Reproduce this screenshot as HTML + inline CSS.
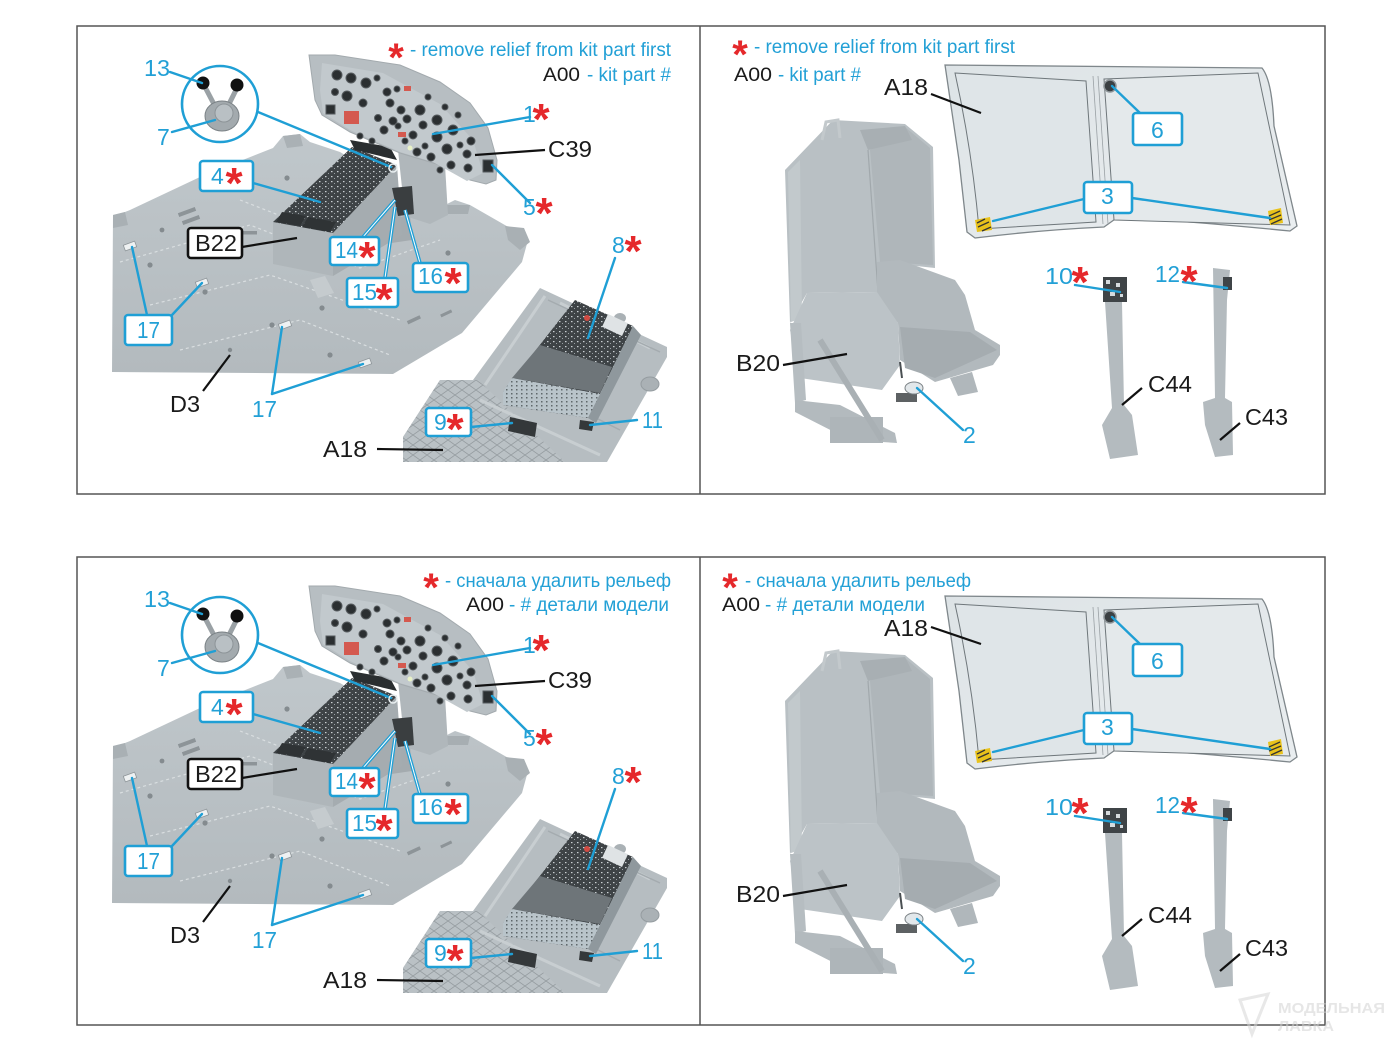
<!DOCTYPE html>
<html><head><meta charset="utf-8"><style>
html,body{margin:0;padding:0;background:#fff;}
svg{display:block;}
.t{font-family:"Liberation Sans",Arial,sans-serif;}
.lb{font-family:"Liberation Sans",Arial,sans-serif;font-size:23px;fill:#22a0d6;}
.bk{font-family:"Liberation Sans",Arial,sans-serif;font-size:23px;fill:#1a1a1a;}
.lg{font-family:"Liberation Sans",Arial,sans-serif;font-size:19px;fill:#22a0d6;}
.lgk{font-family:"Liberation Sans",Arial,sans-serif;font-size:19px;fill:#1a1a1a;}
.as{font-family:"Liberation Sans",Arial,sans-serif;font-weight:bold;font-size:44px;fill:#e5282b;}
.asl{font-family:"Liberation Sans",Arial,sans-serif;font-weight:bold;font-size:40px;fill:#e5282b;}
</style></head><body>
<svg width="1400" height="1050" viewBox="0 0 1400 1050" xmlns="http://www.w3.org/2000/svg">
<defs>
<pattern id="spk" width="6" height="5" patternUnits="userSpaceOnUse">
<rect width="6" height="5" fill="#3e4346"/>
<rect x="1" y="1" width="1.5" height="1.2" fill="#c9cfd2"/>
<rect x="4" y="3" width="1" height="1" fill="#9aa1a5"/>
</pattern>
<pattern id="dots" width="5" height="4" patternUnits="userSpaceOnUse">
<rect width="5" height="4" fill="#b9c4ca"/>
<rect x="1" y="1" width="1.5" height="1.5" fill="#5f676b"/>
</pattern>
<pattern id="diam" width="14" height="10" patternUnits="userSpaceOnUse">
<rect width="14" height="10" fill="#bac1c5"/>
<path d="M0,0 L14,10 M14,0 L0,10" stroke="#959ca0" stroke-width="0.8"/>
</pattern>
<linearGradient id="flg" x1="0" y1="0" x2="0" y2="1">
<stop offset="0" stop-color="#c0c7cb"/><stop offset="1" stop-color="#b3babe"/>
</linearGradient>
<linearGradient id="gl" x1="0" y1="0" x2="1" y2="1">
<stop offset="0" stop-color="#dde3e6"/><stop offset="1" stop-color="#eaeef0"/>
</linearGradient>
</defs>

<g id="art">
<!-- frames -->
<rect x="77" y="26" width="1248" height="468" fill="none" stroke="#555" stroke-width="1.5"/>
<line x1="700" y1="26" x2="700" y2="494" stroke="#555" stroke-width="1.5"/>

<!-- ========== LEFT: floor D3 ========== -->
<polygon points="113,215 125,212 130,210 200,177 273,148 283,136 300,134 310,142 340,152 420,200 445,205 455,200 470,205 510,228 522,228 528,240 522,262 462,333 393,374 112,372" fill="url(#flg)"/>
<polygon points="113,215 125,212 128,225 113,228" fill="#a9b0b4"/>
<polygon points="283,136 300,134 303,146 287,148" fill="#aab1b5"/>
<polygon points="445,205 470,205 468,214 448,214" fill="#a7aeb2"/>
<polygon points="505,226 524,228 530,242 520,250 508,240" fill="#a9b0b4"/>
<g stroke="#d9dee0" stroke-width="1.2" stroke-dasharray="3,3" fill="none">
<path d="M120,262 L250,225 L360,268 L440,240"/>
<path d="M150,305 L270,275 L400,320"/>
<path d="M180,350 L300,320 L390,355"/>
<path d="M240,200 L330,235"/>
</g>
<g fill="#848b8f">
<circle cx="150" cy="265" r="2.6"/><circle cx="205" cy="292" r="2.6"/><circle cx="272" cy="325" r="2.6"/>
<circle cx="330" cy="355" r="2.6"/><circle cx="322" cy="308" r="2.6"/><circle cx="448" cy="253" r="2.6"/>
<circle cx="162" cy="230" r="2.4"/><circle cx="287" cy="178" r="2.6"/><circle cx="377" cy="223" r="2.4"/>
<circle cx="230" cy="350" r="2.2"/><circle cx="420" cy="280" r="2.2"/>
</g>
<g fill="#8d9498">
<rect x="178" y="210" width="18" height="4" transform="rotate(-20 187 212)"/>
<rect x="182" y="218" width="18" height="4" transform="rotate(-20 191 220)"/>
<rect x="243" y="231" width="14" height="3.5"/>
<rect x="407" y="318" width="14" height="3.5" transform="rotate(-25 414 320)"/>
<rect x="288" y="262" width="8" height="3"/>
<rect x="440" y="312" width="12" height="3" transform="rotate(-25 446 313)"/>
</g>
<g fill="#eef1f2" stroke="#8f969a" stroke-width="0.8">
<rect x="124" y="243" width="12" height="6" transform="rotate(-20 130 246)"/>
<rect x="196" y="280" width="12" height="6" transform="rotate(-20 202 283)"/>
<rect x="279" y="322" width="12" height="6" transform="rotate(-20 285 325)"/>
<rect x="359" y="360" width="12" height="6" transform="rotate(-20 365 363)"/>
</g>
<polygon points="310,280 325,276 334,293 318,298" fill="#c5cbce"/>
<polygon points="375,222 410,215 412,240 378,245" fill="#a4abaf"/>
<!-- console B22 -->
<polygon points="273,222 333,233 333,276 273,264" fill="#afb6ba"/>
<polygon points="333,233 397,165 402,235 333,276" fill="#a5acb0"/>
<polygon points="273,222 333,233 397,165 352,147" fill="url(#spk)"/>
<polygon points="276,222 300,226 306,216 282,212" fill="#2f3335"/>
<polygon points="302,227 330,232 336,222 308,217" fill="#2f3335"/>
<polygon points="350,140 390,147 397,160 355,150" fill="#2a2e30"/>
<!-- instrument panel support -->
<polygon points="398,150 445,165 448,215 430,224 405,216" fill="#b0b7bb"/>
<polygon points="392,188 412,186 414,214 398,216" fill="#3a3e40"/>
<!-- instrument panel hood -->
<polygon points="309,55 335,55 400,65 440,82 470,103 488,128 497,160 496,180 486,184 470,180 440,165 400,153 350,132 322,115 315,100" fill="#b7bec2" stroke="#a3aaae" stroke-width="1"/>
<polygon points="322,63 383,73 440,104 473,140 483,173 467,181 433,162 400,152 350,130 323,113 320,90" fill="#c2c9cd"/>
<g fill="#2b2f31" stroke="#565b5e" stroke-width="1">
<circle cx="337" cy="75" r="5"/><circle cx="351" cy="78" r="5"/><circle cx="366" cy="83" r="5"/>
<circle cx="347" cy="96" r="5"/><circle cx="363" cy="103" r="4"/><rect x="326" y="105" width="9" height="9"/>
<circle cx="387" cy="92" r="4"/><circle cx="397" cy="89" r="3"/><circle cx="390" cy="103" r="4"/>
<circle cx="401" cy="110" r="4"/><circle cx="407" cy="119" r="4"/><circle cx="393" cy="121" r="4"/>
<circle cx="384" cy="130" r="4"/><circle cx="420" cy="110" r="5"/><circle cx="437" cy="120" r="5"/>
<circle cx="423" cy="125" r="4"/><circle cx="413" cy="135" r="4"/><circle cx="437" cy="137" r="5"/>
<circle cx="453" cy="130" r="5"/><circle cx="447" cy="149" r="5"/><circle cx="467" cy="154" r="4"/>
<circle cx="431" cy="157" r="4"/><circle cx="417" cy="152" r="4"/><circle cx="451" cy="165" r="4"/>
<circle cx="468" cy="168" r="4"/><circle cx="471" cy="141" r="4"/><circle cx="360" cy="136" r="3"/>
<circle cx="372" cy="141" r="3"/><circle cx="405" cy="141" r="3"/><circle cx="458" cy="115" r="3"/>
<circle cx="378" cy="118" r="3.5"/><circle cx="335" cy="92" r="3.5"/><circle cx="377" cy="78" r="3"/>
<circle cx="428" cy="97" r="3"/><circle cx="445" cy="107" r="3"/><circle cx="460" cy="145" r="3"/>
<circle cx="425" cy="146" r="3"/><circle cx="440" cy="170" r="3"/><circle cx="398" cy="126" r="3"/>
<rect x="483" y="160" width="10" height="12"/>
</g>
<rect x="344" y="111" width="15" height="13" fill="#d4594f"/>
<rect x="404" y="86" width="7" height="5" fill="#d4594f"/>
<rect x="398" y="132" width="8" height="5" fill="#d4594f"/>
<circle cx="410" cy="148" r="2.5" fill="#e9f2c8"/>
<!-- inset circle 13/7 -->
<circle cx="220" cy="104" r="38" fill="#fff" stroke="#1f9fd5" stroke-width="2.6"/>
<line x1="217" y1="110" x2="205" y2="87" stroke="#9aa1a5" stroke-width="5"/>
<line x1="226" y1="110" x2="236" y2="90" stroke="#9aa1a5" stroke-width="5"/>
<ellipse cx="222" cy="116" rx="17" ry="15" fill="#a3aaae" stroke="#7b8286" stroke-width="1"/>
<circle cx="224" cy="113" r="9" fill="#b9c0c4" stroke="#8d9498" stroke-width="1"/>
<circle cx="203" cy="83" r="6.5" fill="#111"/>
<circle cx="237" cy="85" r="6.5" fill="#111"/>

<!-- A18 bottom panel (left) -->
<polygon points="540,288 667,347 667,357 607,462 403,462 403,437 440,380 473,380" fill="#b6bdc1"/>
<polygon points="403,437 440,380 478,380 565,462 403,462" fill="url(#diam)"/>
<g stroke="#c8ced1" stroke-width="3" fill="none">
<path d="M545,296 L485,385"/><path d="M560,303 L650,348"/><path d="M480,400 L600,455"/>
</g>
<g stroke="#a4abaf" stroke-width="1.5" fill="none">
<path d="M548,300 L660,352"/><path d="M520,380 L620,430"/>
</g>
<ellipse cx="650" cy="384" rx="9" ry="7" fill="#aab1b5" stroke="#959ca0"/>
<ellipse cx="620" cy="318" rx="6" ry="5" fill="#aab1b5"/>
<!-- box 8 -->
<polygon points="633,326 641,335 596,423 588,418" fill="#8f989d"/>
<polygon points="575,300 633,326 588,418 503,405 503,392" fill="url(#spk)"/>
<polygon points="540,345 612,367 600,393 512,378" fill="#6e7579"/>
<polygon points="512,378 600,394 588,418 503,405 503,392" fill="url(#dots)"/>
<rect x="604" y="318" width="22" height="14" fill="#dfe3e5" transform="rotate(25 615 325)"/>
<circle cx="587" cy="318" r="3" fill="#d04a42"/>
<polygon points="510,417 537,423 535,437 508,431" fill="#34383a"/>
<polygon points="580,420 594,422 592,431 579,429" fill="#34383a"/>

<!-- ========== RIGHT: windshield ========== -->
<path d="M945,65 L1262,68 Q1272,80 1274,126 L1297,226 L1290,231 Q1200,222 1118,217 L1104,227 Q1040,230 975,238 L967,232 L959,160 Z" fill="url(#gl)" stroke="#7f878b" stroke-width="1.3"/>
<path d="M955,73 L1086,81 L1096,222 L979,229 Q972,150 955,73 Z" fill="#dfe5e8" stroke="#6f777b" stroke-width="1"/>
<path d="M1104,79 L1258,73 Q1268,120 1290,225 L1114,220 Z" fill="#e4e9eb" stroke="#6f777b" stroke-width="1"/>
<line x1="1093" y1="76" x2="1103" y2="224" stroke="#9aa1a5" stroke-width="0.8"/>
<line x1="1098" y1="76" x2="1108" y2="224" stroke="#9aa1a5" stroke-width="0.8"/>
<g>
<polygon points="975,220 990,217 992,230 977,232" fill="#e8c21b"/>
<path d="M977,223 L985,219 M978,227 L989,222 M982,231 L991,227" stroke="#333" stroke-width="1.3"/>
<polygon points="1268,211 1281,208 1283,223 1270,225" fill="#e8c21b"/>
<path d="M1269,216 L1280,211 M1269,220 L1281,215 M1271,224 L1282,219" stroke="#333" stroke-width="1.3"/>
</g>
<circle cx="1110" cy="86" r="6" fill="#3b4043" stroke="#8d9498" stroke-width="1.5"/>

<!-- seat B20 -->
<polygon points="785,170 833,120 905,124 933,147 935,268 878,262 877,292 807,293 790,323" fill="#b9c0c4"/>
<polygon points="870,150 905,127 930,148 933,265 880,262" fill="#afb6ba"/>
<line x1="868" y1="150" x2="878" y2="292" stroke="#a1a8ac" stroke-width="1.2"/>
<polygon points="788,172 800,160 802,318 791,322" fill="#c2c9cc"/>
<path d="M822,140 L826,122 L838,120 L840,138" fill="none" stroke="#c3c9cc" stroke-width="3"/>
<polygon points="860,130 905,126 912,140 868,150" fill="#a8afb3"/>
<polygon points="877,262 900,260 955,280 965,295 975,330 1000,345 1000,355 993,365 935,382 900,360 898,323 877,300" fill="#b2b9bd"/>
<polygon points="900,327 970,332 997,350 935,378 905,368" fill="#a5acb0"/>
<polygon points="807,293 877,292 898,323 900,365 882,390 800,378 790,330" fill="#bcc3c7"/>
<polygon points="790,323 801,323 806,400 795,403" fill="#b6bdc1"/>
<polygon points="795,400 840,405 895,433 897,443 850,440 795,412" fill="#b3babe"/>
<rect x="830" y="417" width="53" height="26" fill="#aeb5b9"/>
<line x1="820" y1="340" x2="882" y2="440" stroke="#a9b0b4" stroke-width="6"/>
<polygon points="950,378 972,372 978,392 958,396" fill="#b0b7bb"/>
<rect x="896" y="393" width="21" height="9" fill="#5d6163"/>
<ellipse cx="914" cy="388" rx="9" ry="6" fill="#e2e7ea" stroke="#7a8185"/>
<line x1="900" y1="362" x2="902" y2="378" stroke="#4a4f52" stroke-width="2"/>

<!-- C44 -->
<polygon points="1105,302 1122,302 1124,405 1132,415 1138,455 1110,459 1102,425 1112,408" fill="#b4bbbf"/>
<rect x="1103" y="277" width="24" height="25" fill="#3f4447"/>
<g fill="#d6dbde"><rect x="1106" y="280" width="4" height="4"/><rect x="1116" y="283" width="4" height="4"/><rect x="1110" y="292" width="5" height="4"/><rect x="1120" y="294" width="3" height="3"/></g>
<!-- C43 -->
<polygon points="1213,268 1230,270 1227,300 1225,398 1232,402 1233,455 1215,457 1205,425 1203,402 1215,398" fill="#b4bbbf"/>
<rect x="1223" y="277" width="9" height="13" fill="#3f4447"/>

<!-- ========== leaders / label boxes ========== -->
<g stroke="#1f9fd5" stroke-width="2.4" fill="none" stroke-linecap="round">
<line x1="170" y1="72" x2="202" y2="83"/>
<line x1="172" y1="132" x2="215" y2="120"/>
<line x1="258" y1="112" x2="391" y2="167"/>
<line x1="530" y1="117" x2="433" y2="134"/>
<line x1="530" y1="203" x2="492" y2="165"/>
<line x1="253" y1="183" x2="320" y2="202"/>
<line x1="147" y1="315" x2="132" y2="247"/>
<line x1="172" y1="315" x2="202" y2="283"/>
<line x1="272" y1="394" x2="282" y2="327"/>
<line x1="272" y1="394" x2="363" y2="364"/>
<line x1="615" y1="258" x2="588" y2="338"/>
<line x1="471" y1="427" x2="512" y2="423"/>
<line x1="637" y1="420" x2="590" y2="425"/>
<line x1="1112" y1="86" x2="1140" y2="113"/>
<line x1="1084" y1="199" x2="993" y2="221"/>
<line x1="1132" y1="198" x2="1270" y2="218"/>
<line x1="1075" y1="285" x2="1120" y2="292"/>
<line x1="1183" y1="282" x2="1227" y2="288"/>
<line x1="963" y1="430" x2="917" y2="388"/>
</g>
<circle cx="393" cy="168" r="4" fill="none" stroke="#e8eef0" stroke-width="1.5"/>
<g stroke="#1f9fd5" stroke-width="3.6" fill="none">
<line x1="363" y1="237" x2="395" y2="200"/>
<line x1="385" y1="278" x2="395" y2="207"/>
<line x1="420" y1="263" x2="405" y2="210"/>
</g>
<g stroke="#ffffff" stroke-width="1" fill="none">
<line x1="363" y1="237" x2="395" y2="200"/>
<line x1="385" y1="278" x2="395" y2="207"/>
<line x1="420" y1="263" x2="405" y2="210"/>
</g>
<g stroke="#111" stroke-width="2.2" fill="none">
<line x1="545" y1="150" x2="475" y2="155"/>
<line x1="242" y1="247" x2="297" y2="238"/>
<line x1="203" y1="391" x2="230" y2="355"/>
<line x1="377" y1="449" x2="443" y2="450"/>
<line x1="783" y1="365" x2="847" y2="354"/>
<line x1="1142" y1="388" x2="1122" y2="405"/>
<line x1="1240" y1="423" x2="1220" y2="440"/>
</g>
<g fill="#fff" stroke="#1f9fd5" stroke-width="2.6">
<rect x="200" y="161" width="53" height="30" rx="3"/>
<rect x="330" y="237" width="49" height="28" rx="3"/>
<rect x="347" y="278" width="51" height="29" rx="3"/>
<rect x="413" y="263" width="55" height="29" rx="3"/>
<rect x="125" y="315" width="47" height="30" rx="3"/>
<rect x="426" y="408" width="45" height="28" rx="3"/>
<rect x="1133" y="113" width="49" height="32" rx="3"/>
<rect x="1084" y="182" width="48" height="31" rx="3"/>
</g>
<rect x="188" y="228" width="54" height="30" rx="3" fill="#fff" stroke="#111" stroke-width="2.6"/>
</g>

<use href="#art" x="0" y="531"/>

<!-- A18 right leaders (different per panel) -->
<line x1="931" y1="94" x2="981" y2="113" stroke="#111" stroke-width="2.2"/>
<line x1="931" y1="627" x2="981" y2="644" stroke="#111" stroke-width="2.2"/>

<!-- watermark -->
<g opacity="0.55">
<path d="M1240,1000 L1268,994 L1252,1034 Z" fill="none" stroke="#d5d5d5" stroke-width="3"/>
<text x="1278" y="1013" class="t" font-size="15" font-weight="bold" fill="#d2d2d2" textLength="107" lengthAdjust="spacingAndGlyphs">МОДЕЛЬНАЯ</text>
<text x="1278" y="1031" class="t" font-size="15" font-weight="bold" fill="#d2d2d2" textLength="56" lengthAdjust="spacingAndGlyphs">ЛАВКА</text>
</g>

<!-- ========== TEXT TOP ========== -->
<g>
<text x="396" y="71" class="asl" text-anchor="middle">*</text>
<text x="410" y="56" class="lg" textLength="261" lengthAdjust="spacingAndGlyphs">- remove relief from kit part first</text>
<text x="543" y="81" class="lgk" textLength="37" lengthAdjust="spacingAndGlyphs">A00</text>
<text x="587" y="81" class="lg" textLength="84" lengthAdjust="spacingAndGlyphs">- kit part #</text>

<text x="144" y="76" class="lb" textLength="26" lengthAdjust="spacingAndGlyphs">13</text>
<text x="157" y="145" class="lb">7</text>
<text x="523" y="122" class="lb">1</text><text x="541" y="134" class="as" text-anchor="middle">*</text>
<text x="548" y="157" class="bk" textLength="44" lengthAdjust="spacingAndGlyphs">C39</text>
<text x="523" y="215" class="lb">5</text><text x="544" y="228" class="as" text-anchor="middle">*</text>
<text x="211" y="184" class="lb">4</text><text x="234" y="198" class="as" text-anchor="middle">*</text>
<text x="195" y="251" class="bk" textLength="42" lengthAdjust="spacingAndGlyphs">B22</text>
<text x="335" y="258" class="lb" textLength="23" lengthAdjust="spacingAndGlyphs">14</text><text x="367" y="272" class="as" text-anchor="middle">*</text>
<text x="352" y="300" class="lb" textLength="25" lengthAdjust="spacingAndGlyphs">15</text><text x="384" y="314" class="as" text-anchor="middle">*</text>
<text x="418" y="284" class="lb" textLength="25" lengthAdjust="spacingAndGlyphs">16</text><text x="453" y="298" class="as" text-anchor="middle">*</text>
<text x="137" y="338" class="lb" textLength="23" lengthAdjust="spacingAndGlyphs">17</text>
<text x="252" y="417" class="lb" textLength="25" lengthAdjust="spacingAndGlyphs">17</text>
<text x="170" y="412" class="bk" textLength="30" lengthAdjust="spacingAndGlyphs">D3</text>
<text x="323" y="457" class="bk" textLength="44" lengthAdjust="spacingAndGlyphs">A18</text>
<text x="612" y="253" class="lb">8</text><text x="633" y="266" class="as" text-anchor="middle">*</text>
<text x="434" y="430" class="lb">9</text><text x="455" y="444" class="as" text-anchor="middle">*</text>
<text x="642" y="428" class="lb" textLength="21" lengthAdjust="spacingAndGlyphs">11</text>

<text x="740" y="68" class="asl" text-anchor="middle">*</text>
<text x="754" y="53" class="lg" textLength="261" lengthAdjust="spacingAndGlyphs">- remove relief from kit part first</text>
<text x="734" y="81" class="lgk" textLength="38" lengthAdjust="spacingAndGlyphs">A00</text>
<text x="778" y="81" class="lg" textLength="83" lengthAdjust="spacingAndGlyphs">- kit part #</text>
<text x="884" y="95" class="bk" textLength="44" lengthAdjust="spacingAndGlyphs">A18</text>
<text x="1151" y="138" class="lb">6</text>
<text x="1101" y="204" class="lb">3</text>
<text x="1045" y="284" class="lb" textLength="28" lengthAdjust="spacingAndGlyphs">10</text><text x="1080" y="297" class="as" text-anchor="middle">*</text>
<text x="1155" y="282" class="lb" textLength="25" lengthAdjust="spacingAndGlyphs">12</text><text x="1189" y="296" class="as" text-anchor="middle">*</text>
<text x="736" y="371" class="bk" textLength="44" lengthAdjust="spacingAndGlyphs">B20</text>
<text x="963" y="443" class="lb">2</text>
<text x="1148" y="392" class="bk" textLength="44" lengthAdjust="spacingAndGlyphs">C44</text>
<text x="1245" y="425" class="bk" textLength="43" lengthAdjust="spacingAndGlyphs">C43</text>
</g>

<!-- ========== TEXT BOTTOM ========== -->
<g transform="translate(0,531)">
<text x="431" y="70" class="asl" text-anchor="middle">*</text>
<text x="445" y="56" class="lg" textLength="226" lengthAdjust="spacingAndGlyphs">- сначала удалить рельеф</text>
<text x="466" y="80" class="lgk" textLength="38" lengthAdjust="spacingAndGlyphs">A00</text>
<text x="509" y="80" class="lg" textLength="160" lengthAdjust="spacingAndGlyphs">- # детали модели</text>

<text x="144" y="76" class="lb" textLength="26" lengthAdjust="spacingAndGlyphs">13</text>
<text x="157" y="145" class="lb">7</text>
<text x="523" y="122" class="lb">1</text><text x="541" y="134" class="as" text-anchor="middle">*</text>
<text x="548" y="157" class="bk" textLength="44" lengthAdjust="spacingAndGlyphs">C39</text>
<text x="523" y="215" class="lb">5</text><text x="544" y="228" class="as" text-anchor="middle">*</text>
<text x="211" y="184" class="lb">4</text><text x="234" y="198" class="as" text-anchor="middle">*</text>
<text x="195" y="251" class="bk" textLength="42" lengthAdjust="spacingAndGlyphs">B22</text>
<text x="335" y="258" class="lb" textLength="23" lengthAdjust="spacingAndGlyphs">14</text><text x="367" y="272" class="as" text-anchor="middle">*</text>
<text x="352" y="300" class="lb" textLength="25" lengthAdjust="spacingAndGlyphs">15</text><text x="384" y="314" class="as" text-anchor="middle">*</text>
<text x="418" y="284" class="lb" textLength="25" lengthAdjust="spacingAndGlyphs">16</text><text x="453" y="298" class="as" text-anchor="middle">*</text>
<text x="137" y="338" class="lb" textLength="23" lengthAdjust="spacingAndGlyphs">17</text>
<text x="252" y="417" class="lb" textLength="25" lengthAdjust="spacingAndGlyphs">17</text>
<text x="170" y="412" class="bk" textLength="30" lengthAdjust="spacingAndGlyphs">D3</text>
<text x="323" y="457" class="bk" textLength="44" lengthAdjust="spacingAndGlyphs">A18</text>
<text x="612" y="253" class="lb">8</text><text x="633" y="266" class="as" text-anchor="middle">*</text>
<text x="434" y="430" class="lb">9</text><text x="455" y="444" class="as" text-anchor="middle">*</text>
<text x="642" y="428" class="lb" textLength="21" lengthAdjust="spacingAndGlyphs">11</text>

<text x="730" y="70" class="asl" text-anchor="middle">*</text>
<text x="745" y="56" class="lg" textLength="226" lengthAdjust="spacingAndGlyphs">- сначала удалить рельеф</text>
<text x="722" y="80" class="lgk" textLength="38" lengthAdjust="spacingAndGlyphs">A00</text>
<text x="765" y="80" class="lg" textLength="160" lengthAdjust="spacingAndGlyphs">- # детали модели</text>
<text x="884" y="105" class="bk" textLength="44" lengthAdjust="spacingAndGlyphs">A18</text>
<text x="1151" y="138" class="lb">6</text>
<text x="1101" y="204" class="lb">3</text>
<text x="1045" y="284" class="lb" textLength="28" lengthAdjust="spacingAndGlyphs">10</text><text x="1080" y="297" class="as" text-anchor="middle">*</text>
<text x="1155" y="282" class="lb" textLength="25" lengthAdjust="spacingAndGlyphs">12</text><text x="1189" y="296" class="as" text-anchor="middle">*</text>
<text x="736" y="371" class="bk" textLength="44" lengthAdjust="spacingAndGlyphs">B20</text>
<text x="963" y="443" class="lb">2</text>
<text x="1148" y="392" class="bk" textLength="44" lengthAdjust="spacingAndGlyphs">C44</text>
<text x="1245" y="425" class="bk" textLength="43" lengthAdjust="spacingAndGlyphs">C43</text>
</g>
</svg>
</body></html>
